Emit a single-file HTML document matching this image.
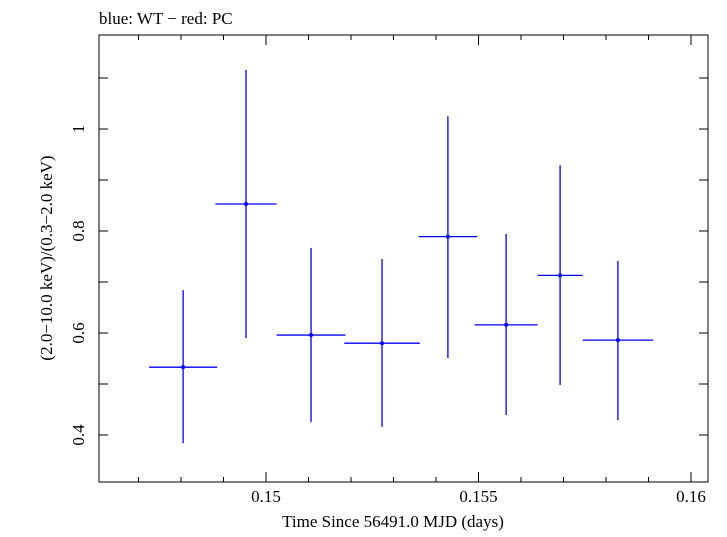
<!DOCTYPE html>
<html><head><meta charset="utf-8"><style>
body{margin:0;background:#fff;}
svg text{font-family:"Liberation Serif",serif;fill:#000;}
</style></head><body>
<svg id="chart" width="727" height="532" xmlns="http://www.w3.org/2000/svg">
<text x="99" y="24" font-size="17">blue: WT − red: PC</text>
<rect x="99" y="35" width="609" height="447" fill="none" stroke="#000" stroke-width="1"/>
<g id="ticks"></g>
<g id="marks"></g>
<text x="393" y="527" font-size="17" text-anchor="middle">Time Since 56491.0 MJD (days)</text>
<text transform="translate(52,258) rotate(-90)" font-size="17" text-anchor="middle">(2.0−10.0 keV)/(0.3−2.0 keV)</text>
</svg>
<script>
const times=[0.14805,0.14953,0.15106,0.15273,0.15428,0.15565,0.15692,0.15828];
const halfWidths=[0.0008,0.00072,0.00081,0.00089,0.00069,0.00074,0.00053,0.00083];
const ratios=[0.533,0.853,0.596,0.580,0.789,0.616,0.713,0.586];
const errLow=[0.384,0.590,0.425,0.416,0.551,0.439,0.498,0.429];
const errHigh=[0.684,1.116,0.767,0.745,1.025,0.794,0.929,0.741];
const xTicks=[0.15,0.155,0.16];
const xTickLabels=["0.15","0.155","0.16"];
const yTicks=[0.4,0.6,0.8,1.0];
const yTickLabels=["0.4","0.6","0.8","1"];
const L=99,R=708,T=35,B=482;
function xs(t){return 266+(t-0.15)*42500;}
function ys(v){return 129+(1-v)*510;}
const NS="http://www.w3.org/2000/svg";
function mk(tag,attrs,parent){const e=document.createElementNS(NS,tag);for(const k in attrs)e.setAttribute(k,attrs[k]);parent.appendChild(e);return e;}
const tg=document.getElementById('ticks');
for(let t=0.146;t<=0.1605;t+=0.001){const x=xs(t);if(x<L||x>R)continue;const major=xTicks.some(v=>Math.abs(v-t)<1e-6);const len=major?10:5;
const a=mk('line',{x1:x,x2:x,y1:B,y2:B-len,stroke:'#000'},tg);
const b=mk('line',{x1:x,x2:x,y1:T,y2:T+len,stroke:'#000'},tg);}
xTicks.forEach((t,i)=>{const e=mk('text',{x:xs(t),y:502,'font-size':17,'text-anchor':'middle'},tg);e.textContent=xTickLabels[i];
});
for(let v=0.3;v<=1.2;v+=0.1){const y=ys(v);if(y<T||y>B)continue;const len=9;
const a=mk('line',{x1:L,x2:L+len,y1:y,y2:y,stroke:'#000'},tg);
const b=mk('line',{x1:R,x2:R-len,y1:y,y2:y,stroke:'#000'},tg);}
yTicks.forEach((v,i)=>{const e=mk('text',{transform:`translate(84,${ys(v)}) rotate(-90)`,'font-size':17,'text-anchor':'middle'},tg);e.textContent=yTickLabels[i];
});
const mg=document.getElementById('marks');
times.forEach((t,i)=>{const g=mk('g',{},mg);
mk('line',{x1:xs(t-halfWidths[i]),x2:xs(t+halfWidths[i]),y1:ys(ratios[i]),y2:ys(ratios[i]),stroke:'#0000ff','stroke-width':1.3},g);
mk('line',{x1:xs(t),x2:xs(t),y1:ys(errLow[i]),y2:ys(errHigh[i]),stroke:'#0000ff','stroke-width':1.3},g);
mk('circle',{cx:xs(t),cy:ys(ratios[i]),r:2,fill:'#0000ff'},g);});
</script>
</body></html>
